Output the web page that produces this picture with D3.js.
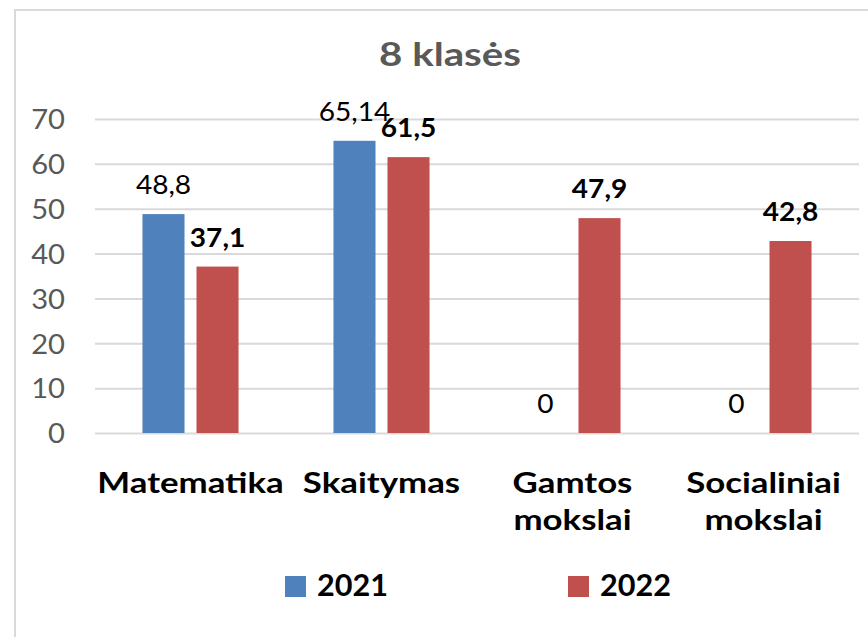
<!DOCTYPE html>
<html>
<head>
<meta charset="utf-8">
<script src="https://cdn.jsdelivr.net/npm/d3@7"></script>
<style>
  body { margin: 0; background: #fff; }
  svg { display: block; }
</style>
</head>
<body>
<div id="chart"></div>
<script>
// data
const categories = ['Matematika', 'Skaitymas', 'Gamtos mokslai', 'Socialiniai mokslai'];
const categoryLines = [['Matematika'], ['Skaitymas'], ['Gamtos', 'mokslai'], ['Socialiniai', 'mokslai']];
const years = ['2021', '2022'];
const values2021 = [48.8, 65.14, 0, 0];
const values2022 = [37.1, 61.5, 47.9, 42.8];
const yTicks = [0, 10, 20, 30, 40, 50, 60, 70];
const title = '8 klasės';

const width = 868, height = 637;
const FONT = 'Lato, "Open Sans", sans-serif';
const colors = { '2021': '#4F81BD', '2022': '#C0504D' };

const plot = { left: 95, right: 859, top: 119, bottom: 433 };

const svg = d3.select('#chart').append('svg')
    .attr('width', width)
    .attr('height', height)
    .style('font-family', FONT);

// frame (only top and left edges are visible in the picture)
svg.append('path')
    .attr('d', `M15,${height} V10 H${width}`)
    .attr('fill', 'none')
    .attr('stroke', '#d9d9d9')
    .attr('stroke-width', 2);

const x0 = d3.scaleBand()
    .domain(categories)
    .range([plot.left, plot.right])
    .paddingInner(0.497)
    .paddingOuter(0.2485);

const x1 = d3.scaleBand()
    .domain(years)
    .range([0, x0.bandwidth()])
    .paddingInner(0.222);

const y = d3.scaleLinear()
    .domain([0, 70])
    .range([plot.bottom, plot.top]);

// stretched text helper (the source font is wider than Lato)
function put(g, x, yy, txt, o) {
    return g.append('text')
        .attr('transform', `translate(${x},${yy}) scale(${o.sx || 1},1)`)
        .attr('text-anchor', o.anchor || 'middle')
        .attr('font-size', o.size)
        .attr('font-weight', o.weight || 'normal')
        .attr('fill', o.fill || '#000')
        .text(txt);
}

// y axis + gridlines
const tickSx = 1.08;
const yAxis = svg.append('g')
    .attr('transform', `translate(${plot.left},0)`)
    .call(d3.axisLeft(y).tickValues(yTicks).tickSize(-(plot.right - plot.left)).tickPadding(30));
yAxis.select('.domain').remove();
yAxis.selectAll('.tick line')
    .attr('stroke', '#d9d9d9')
    .attr('stroke-width', 2);
yAxis.selectAll('.tick text')
    .attr('x', -30 / tickSx)
    .attr('dy', '0.36em')
    .attr('transform', `scale(${tickSx},1)`)
    .attr('font-family', FONT)
    .attr('font-size', 27)
    .attr('fill', '#595959');

// bars
const series = [values2021, values2022];
const groups = svg.append('g');
years.forEach((yr, si) => {
    groups.selectAll(null)
        .data(series[si])
        .enter()
        .append('rect')
        .attr('x', (d, i) => x0(categories[i]) + x1(yr))
        .attr('y', d => y(d))
        .attr('width', x1.bandwidth())
        .attr('height', d => y(0) - y(d))
        .attr('fill', colors[yr]);
});

// data labels
const labels = svg.append('g');
years.forEach((yr, si) => {
    series[si].forEach((v, i) => {
        put(labels, x0(categories[i]) + x1(yr) + x1.bandwidth() / 2, y(v) - 20,
            String(v).replace('.', ','),
            { size: 26, weight: si === 1 ? 'bold' : 'normal', sx: 1.08 });
    });
});

// category labels
const catG = svg.append('g');
categoryLines.forEach((lines, i) => {
    lines.forEach((ln, li) => {
        put(catG, x0(categories[i]) + x0.bandwidth() / 2, 493 + li * 37, ln,
            { size: 29, weight: 'bold', sx: 1.2 });
    });
});

// legend
const legend = svg.append('g');
const legendX = { '2021': 285, '2022': 568 };
years.forEach(yr => {
    legend.append('rect')
        .attr('x', legendX[yr])
        .attr('y', 576)
        .attr('width', 21)
        .attr('height', 21)
        .attr('fill', colors[yr]);
    put(legend, legendX[yr] + 32, 596, yr, { size: 30, weight: 'bold', anchor: 'start', sx: 1.02 });
});

// title
put(svg, 450, 66, title, { size: 33, weight: 'bold', fill: '#595959', sx: 1.22 });
</script>
</body>
</html>
